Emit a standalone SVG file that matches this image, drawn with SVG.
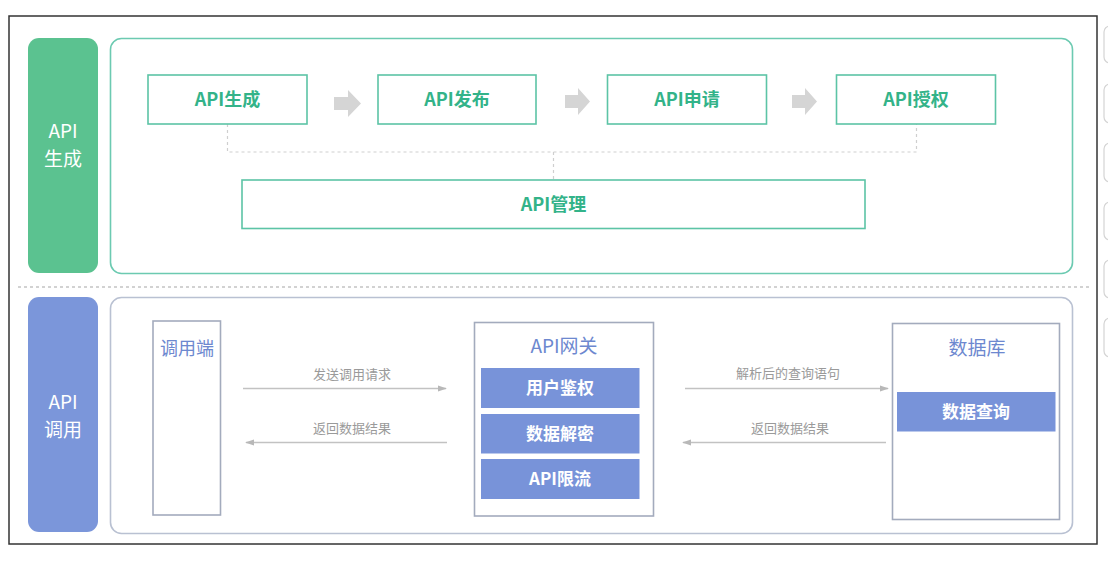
<svg xmlns="http://www.w3.org/2000/svg" width="1108" height="566" viewBox="0 0 1108 566">
<defs>
<style>
.cjk{font-family:"Noto Sans CJK SC","Noto Sans",sans-serif}
.gbox{fill:#fff;stroke:#5cc4a6;stroke-width:1.6}
.gtxt{fill:#33b389;font-size:18px;font-weight:bold;text-anchor:middle}
.side{fill:#fff;font-size:19px;text-anchor:middle}
.bbox{fill:#fff;stroke:#a3abbd;stroke-width:1.6}
.bfill{fill:#7893d9}
.btitle{fill:#6d88cf;font-size:19px;text-anchor:middle}
.wtxt{fill:#fff;font-size:17px;font-weight:bold;text-anchor:middle}
.lbl{fill:#9a9a9a;font-size:13px;text-anchor:middle}
.dash{fill:none;stroke:#cfcfcf;stroke-width:1.2;stroke-dasharray:3 3}
.arr{fill:none;stroke:#c2c2c2;stroke-width:1.3}
.blk{fill:#d5d5d5}
.edge{fill:none;stroke:#d4d4d4;stroke-width:1.2}
</style>
<marker id="ah" viewBox="0 0 10 10" refX="9" refY="5" markerWidth="7" markerHeight="7" orient="auto-start-reverse">
<path d="M0,1.5 L10,5 L0,8.5 z" fill="#b8b8b8"/>
</marker>
</defs>
<rect width="1108" height="566" fill="#fff"/>
<!-- outer frame -->
<rect x="9" y="16" width="1088" height="528" fill="#fff" stroke="#333" stroke-width="1.5"/>
<!-- partial shapes at right edge -->
<g id="edge-shapes">
<rect class="edge" x="1104" y="26" width="20" height="37" rx="6"/>
<rect class="edge" x="1104" y="84" width="20" height="39" rx="6"/>
<rect class="edge" x="1104" y="143" width="20" height="39" rx="6"/>
<rect class="edge" x="1104" y="202" width="20" height="38" rx="6"/>
<rect class="edge" x="1104" y="260" width="20" height="38" rx="6"/>
<rect class="edge" x="1104" y="318" width="20" height="39" rx="6"/>
</g>
<!-- separator -->
<line x1="18" y1="287" x2="1090" y2="287" stroke="#d2d2d2" stroke-width="2" stroke-dasharray="3 3"/>

<!-- top section -->
<g id="label-gen">
<rect x="28" y="38" width="70" height="235" rx="11" fill="#5bc290"/>
<text class="cjk side" x="63" y="138">API</text>
<text class="cjk side" x="63" y="166">生成</text>
</g>
<g id="panel-gen">
<rect x="110.5" y="38.5" width="962" height="235" rx="11" fill="#fff" stroke="#6ccab1" stroke-width="1.6"/>
</g>

<g id="connectors">
<path class="dash" d="M227.5,124 V152 H916.5 V124"/>
<path class="dash" d="M553.5,152 V180"/>
<path class="blk" d="M334,97 H348 V90 L361,103.5 L348,117 V110 H334 z"/>
<path class="blk" d="M565,95 H578 V88 L590,101.5 L578,115 V108 H565 z"/>
<path class="blk" d="M792,95 H805 V88 L817,101.5 L805,115 V108 H792 z"/>
<line class="arr" x1="243" y1="388.5" x2="446" y2="388.5" marker-end="url(#ah)"/>
<line class="arr" x1="447" y1="442.5" x2="246" y2="442.5" marker-end="url(#ah)"/>
<line class="arr" x1="685" y1="388.5" x2="888" y2="388.5" marker-end="url(#ah)"/>
<line class="arr" x1="886" y1="442.5" x2="683" y2="442.5" marker-end="url(#ah)"/>
<text class="cjk lbl" x="352" y="379">发送调用请求</text>
<text class="cjk lbl" x="352" y="433">返回数据结果</text>
<text class="cjk lbl" x="788" y="378">解析后的查询语句</text>
<text class="cjk lbl" x="790" y="433">返回数据结果</text>
</g>

<g id="node-gen">
<rect class="gbox" x="148" y="75" width="159" height="49"/>
<text class="cjk gtxt" x="227.5" y="106">API生成</text>
</g>
<g id="node-pub">
<rect class="gbox" x="378" y="75" width="158" height="49"/>
<text class="cjk gtxt" x="457" y="106">API发布</text>
</g>
<g id="node-apply">
<rect class="gbox" x="607.5" y="75" width="159" height="49"/>
<text class="cjk gtxt" x="687" y="106">API申请</text>
</g>
<g id="node-auth">
<rect class="gbox" x="836.5" y="75" width="159" height="49"/>
<text class="cjk gtxt" x="916" y="106">API授权</text>
</g>
<g id="node-manage">
<rect class="gbox" x="242" y="180" width="623" height="48.5"/>
<text class="cjk gtxt" x="553.5" y="210.5">API管理</text>
</g>

<!-- bottom section -->
<g id="label-call">
<rect x="28" y="297" width="70" height="235" rx="11" fill="#7b96da"/>
<text class="cjk side" x="63" y="409">API</text>
<text class="cjk side" x="63" y="437">调用</text>
</g>
<g id="panel-call">
<rect x="110.5" y="297.5" width="962" height="236" rx="11" fill="none" stroke="#b9c1d2" stroke-width="1.6"/>
</g>

<g id="node-client">
<rect class="bbox" x="153" y="321" width="67.5" height="194"/>
<text class="cjk btitle" x="187" y="355" style="font-size:18px">调用端</text>
</g>
<g id="node-gateway">
<rect class="bbox" x="474.5" y="322.5" width="179" height="193.5"/>
<text class="cjk btitle" x="564" y="353">API网关</text>
<rect class="bfill" x="481" y="368" width="158.5" height="40"/>
<text class="cjk wtxt" x="560" y="394">用户鉴权</text>
<rect class="bfill" x="481" y="414" width="158.5" height="39.5"/>
<text class="cjk wtxt" x="560" y="440">数据解密</text>
<rect class="bfill" x="481" y="459" width="158.5" height="40"/>
<text class="cjk wtxt" x="560" y="485">API限流</text>
</g>
<g id="node-db">
<rect class="bbox" x="892.5" y="323.5" width="167" height="196"/>
<text class="cjk btitle" x="977" y="355">数据库</text>
<rect class="bfill" x="897" y="392" width="158.5" height="39.5"/>
<text class="cjk wtxt" x="976" y="418">数据查询</text>
</g>
</svg>
